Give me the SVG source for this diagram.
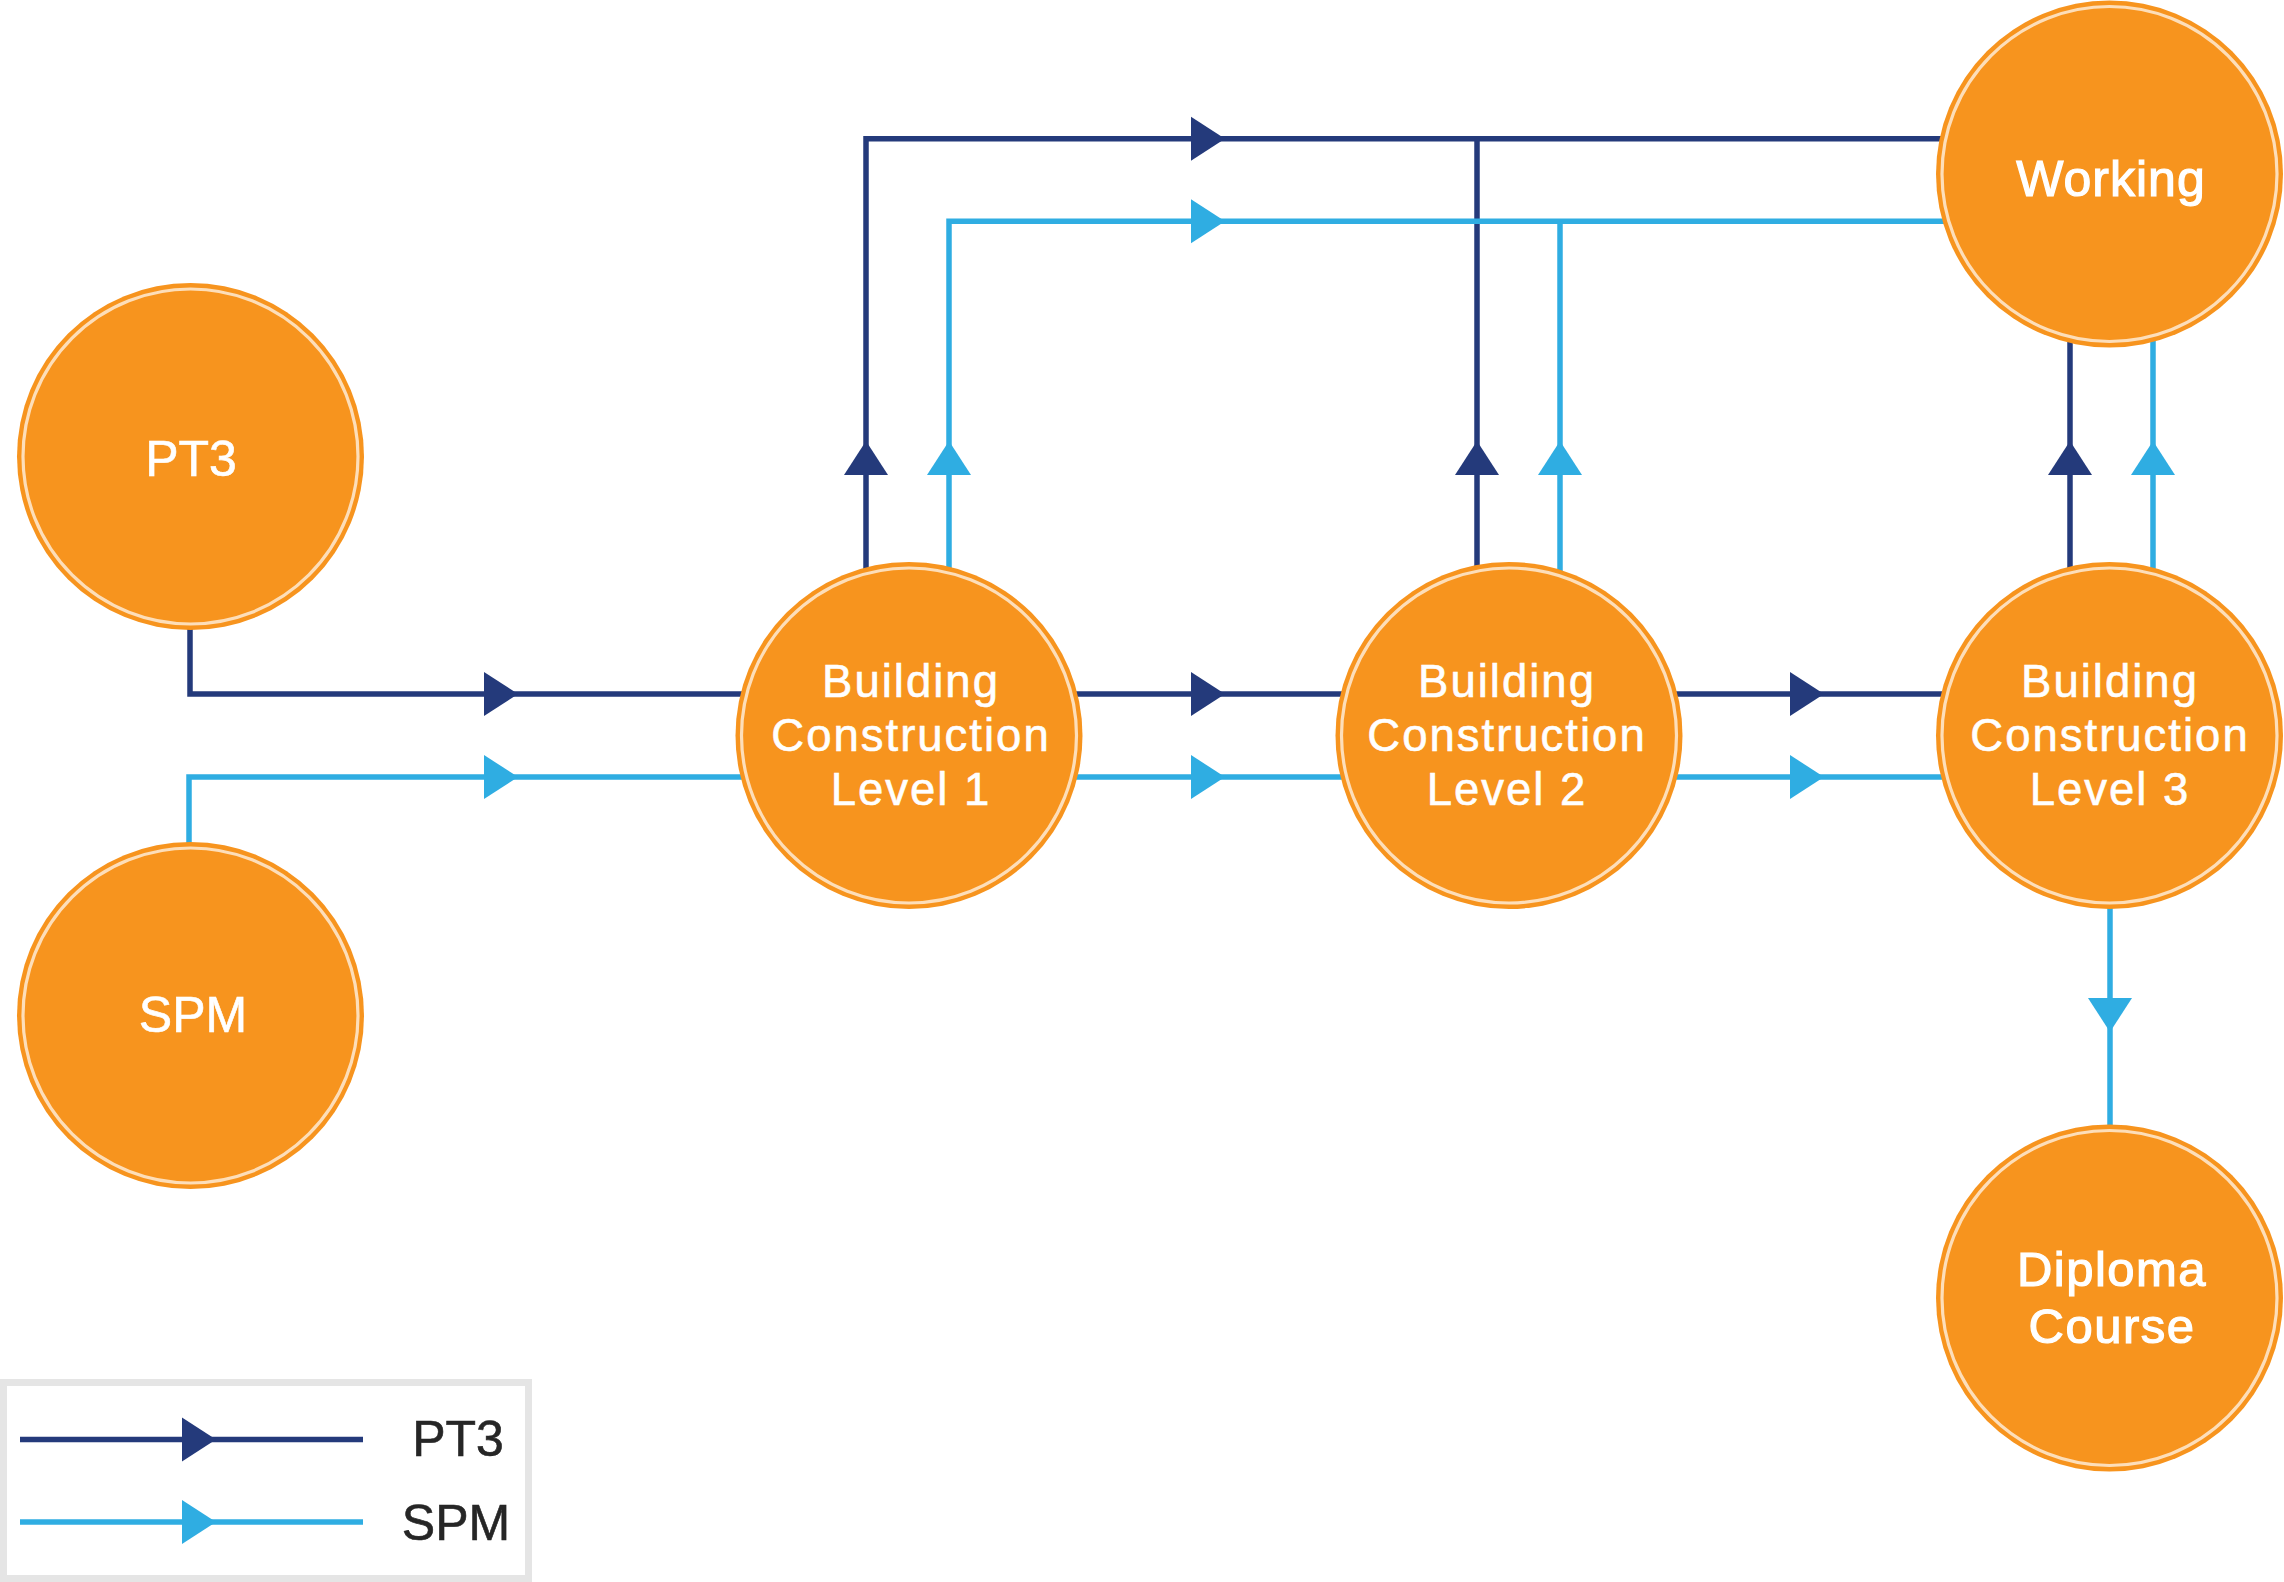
<svg xmlns="http://www.w3.org/2000/svg" xmlns:xlink="http://www.w3.org/1999/xlink" width="2284" height="1582" viewBox="0 0 2284 1582">
<style>
.node-bg{fill:#F7941E;}
.ring{fill:none;stroke:#FDDEB9;stroke-width:3.2;}
.lbl{fill:#FFFFFF;font-family:"Liberation Sans",Arial,Helvetica,sans-serif;text-anchor:middle;stroke:#FFFFFF;stroke-width:0.6px;}
.big{font-size:50px;}
.bc{font-size:45.5px;letter-spacing:2px;}
.heavy{stroke-width:1.2px;}
.pt3{fill:none;stroke:#243A7B;stroke-width:5.5;}
.spm{fill:none;stroke:#2FADE2;stroke-width:5.5;}
.pt3a{fill:#243A7B;}
.spma{fill:#2FADE2;}
.leg{fill:#262626;stroke:#262626;stroke-width:0.6px;font-family:"Liberation Sans",Arial,Helvetica,sans-serif;font-size:50px;text-anchor:middle;}
</style>
<defs>
<polygon id="arr" points="-34,-22 0,0 -34,22"/>
</defs>
<rect x="0" y="0" width="2284" height="1582" fill="#FFFFFF"/>
<g id="connectors">
<!-- PT3 stream -->
<path class="pt3" d="M190,600 V694 H760"/>
<use href="#arr" class="pt3a" transform="translate(518,694)"/>
<path class="pt3" d="M1060,694 H1360"/>
<use href="#arr" class="pt3a" transform="translate(1225,694)"/>
<path class="pt3" d="M1660,694 H1960"/>
<use href="#arr" class="pt3a" transform="translate(1824,694)"/>
<path class="pt3" d="M866,600 V138.7 H1960"/>
<use href="#arr" class="pt3a" transform="translate(866,441) rotate(-90)"/>
<use href="#arr" class="pt3a" transform="translate(1225,138.7)"/>
<path class="pt3" d="M1477,600 V138.7"/>
<use href="#arr" class="pt3a" transform="translate(1477,441) rotate(-90)"/>
<path class="pt3" d="M2070,600 V320"/>
<use href="#arr" class="pt3a" transform="translate(2070,441) rotate(-90)"/>
<!-- SPM stream -->
<path class="spm" d="M189,860 V777 H760"/>
<use href="#arr" class="spma" transform="translate(518,777)"/>
<path class="spm" d="M1060,777 H1360"/>
<use href="#arr" class="spma" transform="translate(1225,777)"/>
<path class="spm" d="M1660,777 H1960"/>
<use href="#arr" class="spma" transform="translate(1824,777)"/>
<path class="spm" d="M949,600 V221.3 H1960"/>
<use href="#arr" class="spma" transform="translate(949,441) rotate(-90)"/>
<use href="#arr" class="spma" transform="translate(1225,221.3)"/>
<path class="spm" d="M1560,600 V221.3"/>
<use href="#arr" class="spma" transform="translate(1560,441) rotate(-90)"/>
<path class="spm" d="M2153,600 V320"/>
<use href="#arr" class="spma" transform="translate(2153,441) rotate(-90)"/>
<path class="spm" d="M2110,880 V1150"/>
<use href="#arr" class="spma" transform="translate(2110,1032) rotate(90)"/>
</g>
<g id="node-pt3">
<circle class="node-bg" cx="190.5" cy="456.5" r="173.5"/>
<circle class="ring" cx="190.5" cy="456.5" r="167.5"/>
<text class="lbl big" x="191" y="475.5">PT3</text>
</g>
<g id="node-spm">
<circle class="node-bg" cx="190.5" cy="1015.5" r="173.5"/>
<circle class="ring" cx="190.5" cy="1015.5" r="167.5"/>
<text class="lbl big" x="193" y="1032">SPM</text>
</g>
<g id="node-bc1">
<circle class="node-bg" cx="909" cy="735.5" r="173.5"/>
<circle class="ring" cx="909" cy="735.5" r="167.5"/>
<text class="lbl bc" x="911" y="696.5">Building</text>
<text class="lbl bc" x="911" y="750.5">Construction</text>
<text class="lbl bc" x="911" y="805">Level 1</text>
</g>
<g id="node-bc2">
<circle class="node-bg" cx="1509" cy="735.5" r="173.5"/>
<circle class="ring" cx="1509" cy="735.5" r="167.5"/>
<text class="lbl bc" x="1507" y="696.5">Building</text>
<text class="lbl bc" x="1507" y="750.5">Construction</text>
<text class="lbl bc" x="1507" y="805">Level 2</text>
</g>
<g id="node-bc3">
<circle class="node-bg" cx="2109.5" cy="735.5" r="173.5"/>
<circle class="ring" cx="2109.5" cy="735.5" r="167.5"/>
<text class="lbl bc" x="2110" y="696.5">Building</text>
<text class="lbl bc" x="2110" y="750.5">Construction</text>
<text class="lbl bc" x="2110" y="805">Level 3</text>
</g>
<g id="node-working">
<circle class="node-bg" cx="2109.5" cy="174" r="173.5"/>
<circle class="ring" cx="2109.5" cy="174" r="167.5"/>
<text class="lbl big heavy" x="2111" y="196" letter-spacing="1">Working</text>
</g>
<g id="node-diploma">
<circle class="node-bg" cx="2109.5" cy="1298" r="173.5"/>
<circle class="ring" cx="2109.5" cy="1298" r="167.5"/>
<text class="lbl heavy" x="2112" y="1286" font-size="49" letter-spacing="1.5">Diploma</text>
<text class="lbl heavy" x="2112" y="1343" font-size="49" letter-spacing="1.5">Course</text>
</g>
<g id="legend">
<rect x="3.5" y="1382.5" width="525" height="196" fill="#FFFFFF" stroke="#E5E5E5" stroke-width="7"/>
<path class="pt3" d="M20,1439.5 H363"/>
<use href="#arr" class="pt3a" transform="translate(216,1439.5)"/>
<text class="leg" x="458" y="1456">PT3</text>
<path class="spm" d="M20,1522 H363"/>
<use href="#arr" class="spma" transform="translate(216,1522)"/>
<text class="leg" x="456" y="1540">SPM</text>
</g>
</svg>
